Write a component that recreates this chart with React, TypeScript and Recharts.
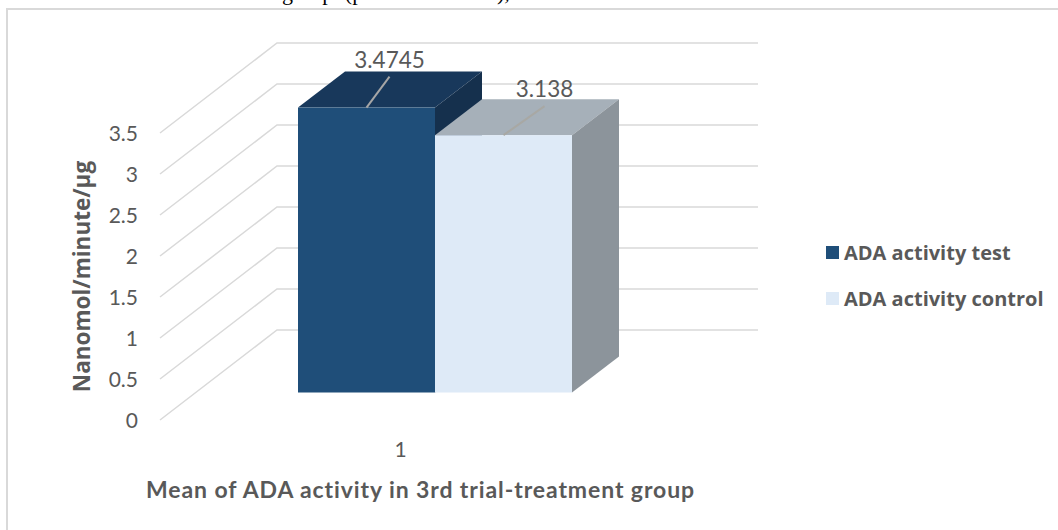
import { Bar, BarChart, CartesianGrid, Label, LabelList, Legend, XAxis, YAxis } from "recharts"

const categories = ["1"]
const testValues = [3.4745]
const controlValues = [3.138]
const yTicks = [0, 0.5, 1, 1.5, 2, 2.5, 3, 3.5]

const TEST_NAME = "ADA activity test"
const CONTROL_NAME = "ADA activity control"

const data = categories.map((name, i) => ({
    name,
    test: testValues[i],
    control: controlValues[i],
}))

const WIDTH = 1058
const HEIGHT = 530

// floor depth of the fake 3D box: how far the back wall sits from the axis plane
const WALL_DX = 117
const WALL_DY = -90
// bars stand partway into the floor
const BAR_DX = 34
const BAR_DY = -27.5
const BOX_DX = 47
const BOX_DY = -36

const TEXT_GRAY = "#595959"
const AXIS_FONT = "Lato, 'Open Sans', sans-serif"

// grid line runs along the floor to the back wall, then across it
const WallGridLine = ({ x1, y1, x2 }: any) => (
    <polyline
        points={`${x1},${y1} ${x1 + WALL_DX},${y1 + WALL_DY} ${x2 + WALL_DX},${y1 + WALL_DY}`}
        fill="none"
        stroke="#D9D9D9"
        strokeWidth={1.5}
    />
)

const makeBox = (topColor: string, sideColor: string) => ({ x, y, width, height, fill }: any) => {
    const left = x + BAR_DX
    const right = left + width
    const top = y + BAR_DY
    const bottom = top + height
    return (
        <g>
            <polygon
                points={`${left},${top} ${left + BOX_DX},${top + BOX_DY} ${right + BOX_DX},${top + BOX_DY} ${right},${top}`}
                fill={topColor}
            />
            <polygon
                points={`${right},${top} ${right + BOX_DX},${top + BOX_DY} ${right + BOX_DX},${bottom + BOX_DY} ${right},${bottom}`}
                fill={sideColor}
            />
            <rect x={left} y={top} width={width} height={height} fill={fill} />
        </g>
    )
}

// value label with its leader line going up from the middle of the front top edge
const makeCallout = (tipDx: number, tipDy: number, lineColor: string) => ({ x, y, width, value }: any) => {
    const startX = x + BAR_DX + width / 2
    const startY = y + BAR_DY
    const tipX = startX + tipDx
    const tipY = startY + tipDy
    return (
        <g>
            <line x1={startX} y1={startY} x2={tipX} y2={tipY} stroke={lineColor} strokeWidth={2} />
            <text x={tipX} y={tipY - 9} textAnchor="middle" fontSize={22.5} fontFamily={AXIS_FONT} fill={TEXT_GRAY}>
                {value}
            </text>
        </g>
    )
}

const LegendList = ({ payload }: any) => (
    <div>
        {[...(payload || [])].reverse().map((entry: any) => (
            <div key={entry.value} style={{ display: "flex", alignItems: "center", height: 46 }}>
                <span style={{ width: 13, height: 13, marginRight: 5, backgroundColor: entry.color }} />
                <span style={{ fontFamily: "'Open Sans', sans-serif", fontWeight: 700, fontSize: 20, color: TEXT_GRAY, whiteSpace: "nowrap" }}>
                    {entry.value}
                </span>
            </div>
        ))}
    </div>
)

export default function App() {
    return (
        <div style={{ position: "absolute", left: 0, top: 0, width: WIDTH, height: HEIGHT, overflow: "hidden", background: "#fff" }}>
            {/* page text running above the figure frame */}
            <div style={{ position: "absolute", left: 282, top: -20, fontFamily: "'Liberation Serif', serif", fontSize: 22, wordSpacing: 6, whiteSpace: "pre", color: "#000" }}>
                group (p
            </div>
            <div style={{ position: "absolute", left: 497, top: -20, fontFamily: "'Liberation Serif', serif", fontSize: 22, whiteSpace: "pre", color: "#000" }}>
                ),
            </div>
            <div style={{ position: "absolute", left: 6, top: 8, width: WIDTH, height: HEIGHT, borderLeft: "2px solid #D9D9D9", borderTop: "2px solid #D9D9D9" }} />
            <div style={{ position: "absolute", left: 0, top: 0 }}>
                <BarChart
                    width={WIDTH}
                    height={HEIGHT}
                    data={data}
                    margin={{ top: 133, right: 417, bottom: 30, left: 60 }}
                    barSize={137}
                    barGap={0}
                >
                    <CartesianGrid vertical={false} horizontal={(props: any) => <WallGridLine key={props.key} {...props} />} />
                    <XAxis
                        dataKey="name"
                        height={80}
                        axisLine={false}
                        tickLine={false}
                        tickSize={0}
                        tickMargin={22}
                        tick={{ fill: TEXT_GRAY, fontSize: 21, fontFamily: AXIS_FONT }}
                    >
                        <Label
                            value="Mean of ADA activity in 3rd trial-treatment group"
                            position="insideBottom"
                            dx={20}
                            offset={2}
                            style={{ fill: TEXT_GRAY, fontSize: 23, letterSpacing: 0.9, fontWeight: 700, fontFamily: AXIS_FONT }}
                        />
                    </XAxis>
                    <YAxis
                        width={100}
                        domain={[0, 3.5]}
                        ticks={yTicks}
                        interval={0}
                        axisLine={false}
                        tickLine={false}
                        tickSize={0}
                        tickMargin={22}
                        tick={{ fill: TEXT_GRAY, fontSize: 21, fontFamily: AXIS_FONT, dy: 1 }}
                    >
                        <Label
                            value="Nanomol/minute/µg"
                            angle={-90}
                            position="insideLeft"
                            offset={22}
                            style={{ textAnchor: "middle", fill: TEXT_GRAY, fontSize: 22.5, fontWeight: 700, fontFamily: "'Open Sans', sans-serif" }}
                        />
                    </YAxis>
                    <Legend
                        layout="vertical"
                        align="center"
                        verticalAlign="middle"
                        content={<LegendList />}
                        wrapperStyle={{ left: 826, top: 229, width: 232, bottom: "auto" }}
                    />
                    <Bar dataKey="test" name={TEST_NAME} fill="#1F4E79" isAnimationActive={false} shape={makeBox("#18385B", "#15304D")}>
                        <LabelList dataKey="test" content={makeCallout(23, -31, "#A6A6A6")} />
                    </Bar>
                    <Bar dataKey="control" name={CONTROL_NAME} fill="#DEEAF7" isAnimationActive={false} shape={makeBox("#A6B0B9", "#8C949B")}>
                        <LabelList dataKey="control" content={makeCallout(41, -29, "#A8A8A4")} />
                    </Bar>
                </BarChart>
            </div>
        </div>
    )
}
